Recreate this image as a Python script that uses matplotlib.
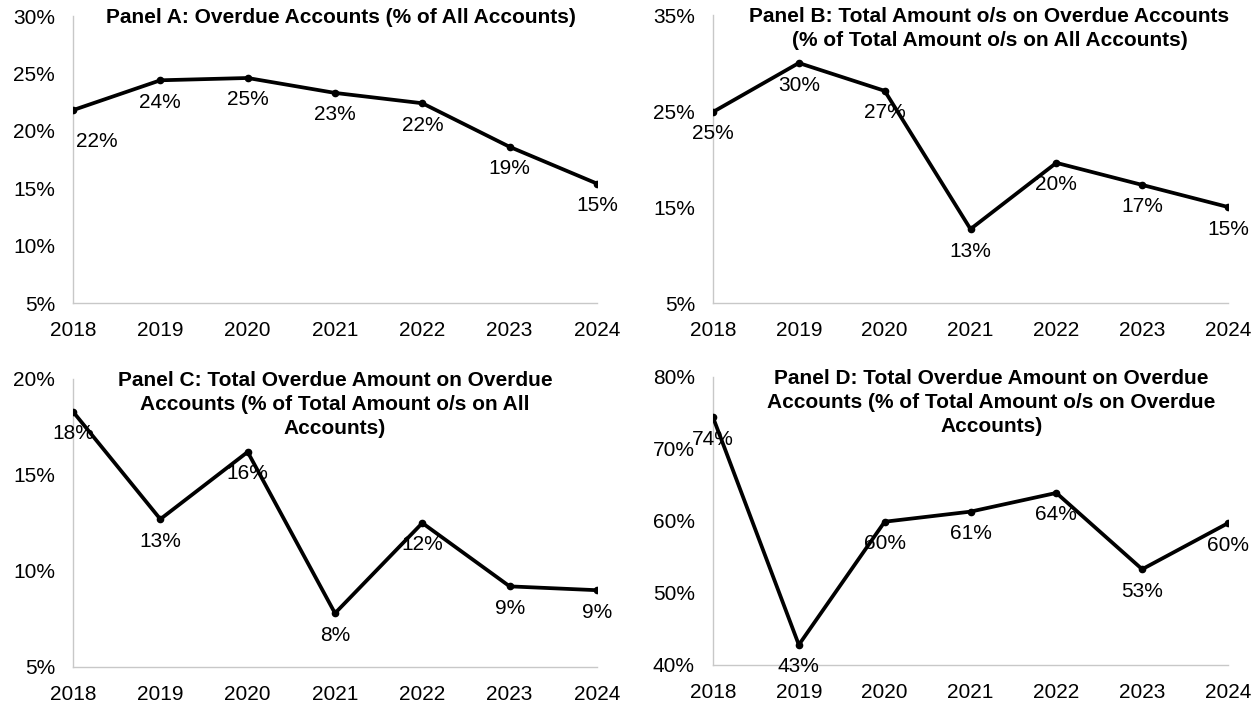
import numpy as np
import matplotlib
matplotlib.use("Agg")
import matplotlib.pyplot as plt
from matplotlib.ticker import FuncFormatter

plt.rcParams['font.family'] = ['Liberation Sans', 'DejaVu Sans']

years = [2018, 2019, 2020, 2021, 2022, 2023, 2024]

# values, in percent
overdue_accounts = [21.8, 24.4, 24.6, 23.3, 22.4, 18.6, 15.4]
amount_os_overdue = [24.9, 30.0, 27.1, 12.7, 19.6, 17.3, 15.0]
overdue_amt_all = [18.3, 12.7, 16.2, 7.8, 12.5, 9.2, 9.0]
overdue_amt_overdue = [74.4, 42.8, 59.9, 61.3, 63.9, 53.3, 59.7]

titles = [
    "Panel A: Overdue Accounts (% of All Accounts)",
    "Panel B: Total Amount o/s on Overdue Accounts\n(% of Total Amount o/s on All Accounts)",
    "Panel C: Total Overdue Amount on Overdue\nAccounts (% of Total Amount o/s on All\nAccounts)",
    "Panel D: Total Overdue Amount on Overdue\nAccounts (% of Total Amount o/s on Overdue\nAccounts)",
]
series = [overdue_accounts, amount_os_overdue, overdue_amt_all, overdue_amt_overdue]
yticks = [
    [5, 10, 15, 20, 25, 30],
    [5, 15, 25, 35],
    [5, 10, 15, 20],
    [40, 50, 60, 70, 80],
]

# axes boxes in pixels: left, top, right, bottom
W, H = 1260, 703
boxes = [
    (73, 16, 597, 303),
    (713, 15, 1228, 303),
    (73, 379, 597, 667),
    (713, 377, 1228, 665),
]
title_dx = [6, 19, 0, 21]
# offset (px) of the first data label in each panel
first_off = [(24, -31), (0, -22), (0, -22), (0, -22)]

fig = plt.figure(figsize=(12.6, 7.03), dpi=100)

for i in range(4):
    l, t, r, b = boxes[i]
    ax = fig.add_axes([l / W, 1 - b / H, (r - l) / W, (b - t) / H])
    vals = series[i]
    ax.plot(years, vals, color='black', lw=2.7, marker='o', markersize=4.5,
            solid_joinstyle='miter', zorder=3)
    ax.set_xlim(years[0], years[-1])
    ax.set_ylim(yticks[i][0], yticks[i][-1])
    ax.set_xticks(years)
    ax.set_yticks(yticks[i])
    ax.yaxis.set_major_formatter(FuncFormatter(lambda v, p: "%d%%" % v))
    ax.tick_params(length=0, labelsize=15)
    ax.tick_params(axis='y', pad=13)
    ax.tick_params(axis='x', pad=13)
    for s in ['top', 'right']:
        ax.spines[s].set_visible(False)
    for s in ['left', 'bottom']:
        ax.spines[s].set_color('#c8c8c8')
        ax.spines[s].set_linewidth(1)
    ax.patch.set_alpha(0)
    for j, (x, v) in enumerate(zip(years, vals)):
        dx, dy = first_off[i] if j == 0 else (0, -22)
        ax.annotate("%d%%" % round(v), (x, v), xytext=(dx * 0.72, dy * 0.72),
                    textcoords='offset points', ha='center', va='center',
                    fontsize=15, zorder=4, annotation_clip=False)
    ax.annotate(titles[i], (0.5, 1.0), xycoords='axes fraction',
                xytext=(title_dx[i] * 0.72, 6), textcoords='offset points',
                ha='center', va='top', fontsize=15, fontweight='bold',
                multialignment='center', linespacing=1.35)

fig.savefig("out.png", dpi=100)
